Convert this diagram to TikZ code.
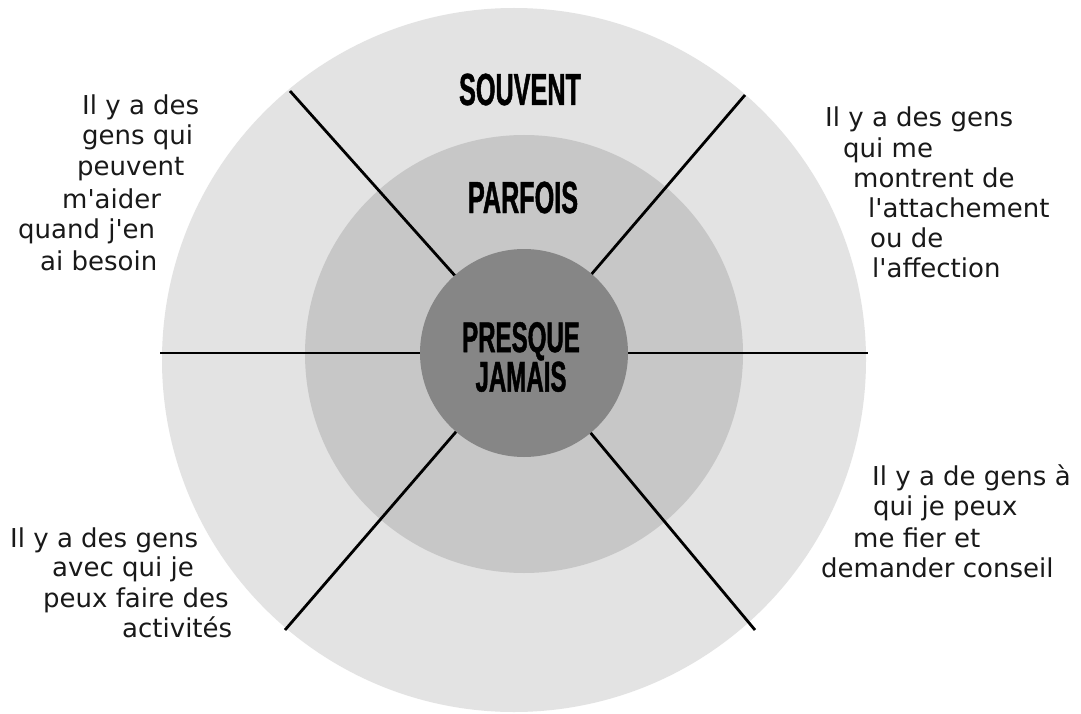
\documentclass[tikz,border=0pt]{standalone}
\usepackage{fontspec}
\newfontfamily\bodyfont{DejaVu Sans}
\newfontfamily\titlefont[FakeStretch=0.56,FakeBold=1]{Liberation Sans Bold}
\definecolor{ringouter}{RGB}{227,227,227}
\definecolor{ringmid}{RGB}{199,199,199}
\definecolor{ringinner}{RGB}{134,134,134}
\definecolor{ink}{RGB}{25,25,25}
\tikzset{
  disc/.style={circle, draw=none, inner sep=0pt},
  spoke/.style={draw=black, line width=2.8pt},
  body/.style={anchor=base west, inner sep=0pt, text=ink, font=\bodyfont\fontsize{26}{30}\selectfont},
  title/.style={anchor=base, inner sep=0pt, text=black, font=\titlefont\fontsize{45}{46}\selectfont},
  centertitle/.style={anchor=center, inner sep=0pt, text=black, align=center, font=\titlefont\fontsize{43}{36}\selectfont},
}
\begin{document}
\begin{tikzpicture}[x=1pt,y=-1pt]
\useasboundingbox (0,0) rectangle (1081,714);
\fill[white] (0,0) rectangle (1081,714);
% rings
\node[disc, fill=ringouter, minimum size=704pt] (outer) at (514,360) {};
\node[disc, fill=ringmid, minimum size=438pt] (mid) at (524,354) {};
% spokes
\coordinate (c) at (524,353);
\coordinate (pl) at (160,353);
\coordinate (pr) at (868,353);
\coordinate (pul) at (290,91);
\coordinate (pur) at (745,95);
\coordinate (pll) at (285,630);
\coordinate (plr) at (755,630);
\draw[spoke] (c) -- (pl);
\draw[spoke] (c) -- (pr);
\draw[spoke] (c) -- (pul);
\draw[spoke] (c) -- (pur);
\draw[spoke] (c) -- (pll);
\draw[spoke] (c) -- (plr);
\node[disc, fill=ringinner, minimum size=208pt] (inner) at (524,353) {};
% ring titles
\node[title] (souvent) at (520,105) {SOUVENT};
\node[title] (parfois) at (523,213) {PARFOIS};
\node[centertitle] (presque) at (521,357) {PRESQUE\\JAMAIS};
% upper left text
\node[body] (ul1) at (82,115) {Il y a des};
\node[body] (ul2) at (82,145) {gens qui};
\node[body] (ul3) at (77,176) {peuvent};
\node[body] (ul4) at (62,208) {m'aider};
\node[body] (ul5) at (18,238) {quand j'en};
\node[body] (ul6) at (40,270) {ai besoin};
% upper right text
\node[body] (ur1) at (825,127) {Il y a des gens};
\node[body] (ur2) at (843,158) {qui me};
\node[body] (ur3) at (853,188) {montrent de};
\node[body] (ur4) at (868,218) {l'attachement};
\node[body] (ur5) at (870,247) {ou de};
\node[body] (ur6) at (872,277) {l'affection};
% lower left text
\node[body] (ll1) at (10,547) {Il y a des gens};
\node[body] (ll2) at (52,576) {avec qui je};
\node[body] (ll3) at (43,607) {peux faire des};
\node[body] (ll4) at (122,637) {activités};
% lower right text
\node[body] (lr1) at (872,485) {Il y a de gens à};
\node[body] (lr2) at (873,515) {qui je peux};
\node[body] (lr3) at (853,547) {me fier et};
\node[body] (lr4) at (821,577) {demander conseil};
\end{tikzpicture}
\end{document}
